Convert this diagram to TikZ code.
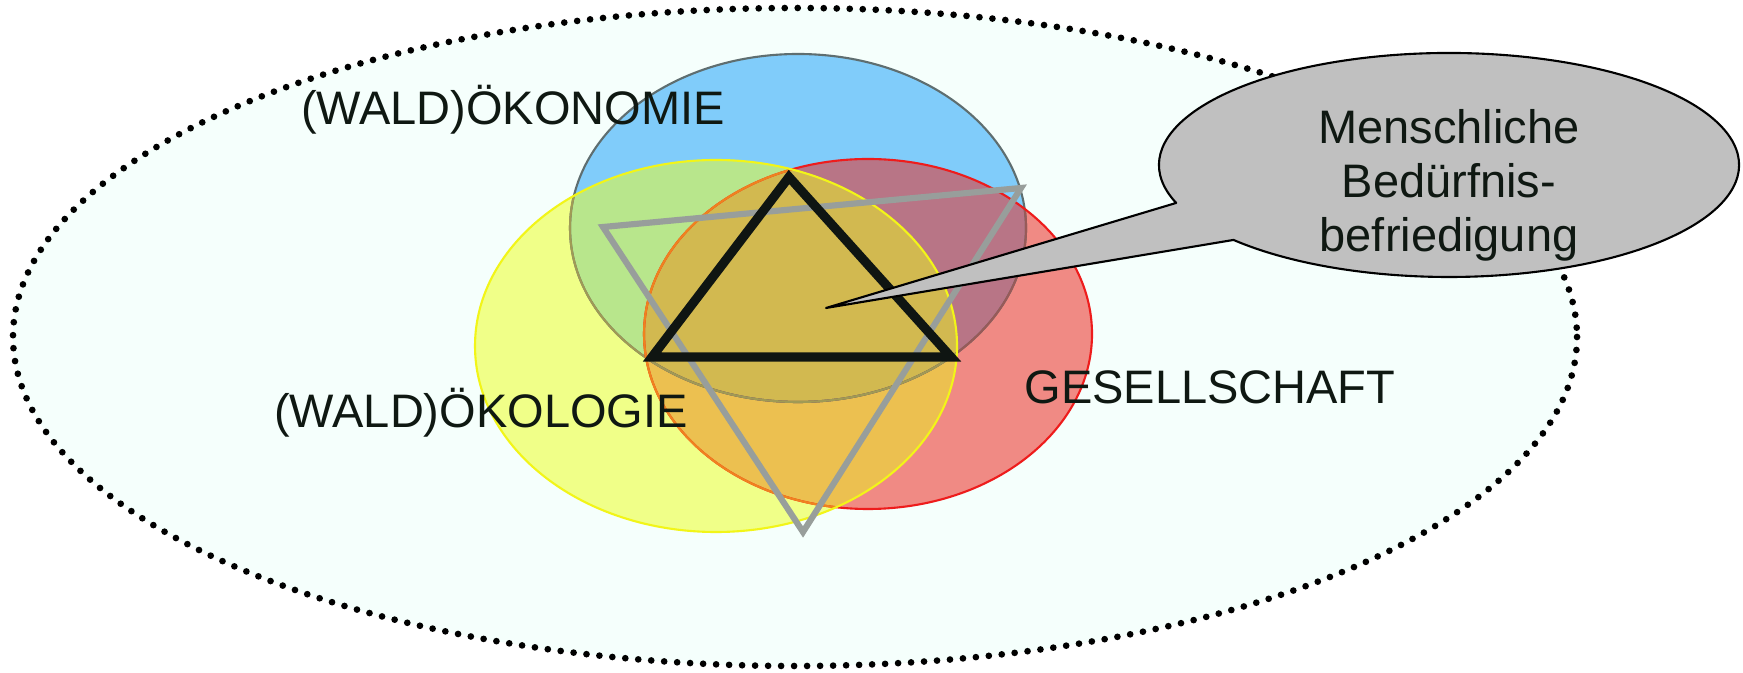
\documentclass[tikz,border=0pt]{standalone}
\usepackage{fontspec}
\setmainfont{Liberation Sans}
\definecolor{bgmint}{HTML}{F5FFFC}
\definecolor{cBlue}{HTML}{80CCFA}
\definecolor{cYel}{HTML}{F0FF88}
\definecolor{cRed}{HTML}{F08A84}
\definecolor{cGreen}{HTML}{B8E68C}
\definecolor{cPurple}{HTML}{B87586}
\definecolor{cOrange}{HTML}{ECC050}
\definecolor{cGold}{HTML}{D2B950}
\definecolor{lBlue}{HTML}{5E6E70}
\definecolor{lBlueR}{HTML}{985A58}
\definecolor{lBlueY}{HTML}{A09A55}
\definecolor{lRed}{HTML}{EE1C1C}
\definecolor{lRedY}{HTML}{F0821E}
\definecolor{lYel}{HTML}{F2F518}
\definecolor{triGray}{HTML}{989E9B}
\definecolor{triBlack}{HTML}{0F1512}
\definecolor{txt}{HTML}{0F1812}
\definecolor{bubGray}{HTML}{C0C0C0}
\begin{document}
\begin{tikzpicture}[x=0.1mm,y=-0.1mm,
  blueE/.style={insert path={(798,228) ellipse [x radius=228, y radius=174]}},
  yelE/.style={insert path={(716,346) ellipse [x radius=241, y radius=186]}},
  redE/.style={insert path={(868,334) ellipse [x radius=224, y radius=175]}},
  ring/.style={line width=0.6pt},
  outerline/.style={draw=black, line width=1.9pt, line cap=round, dash pattern=on 0pt off 3.7pt},
  blacktri/.style={draw=triBlack, line width=2.6pt, line join=miter},
  graytri/.style={draw=triGray, line width=1.75pt, line join=miter},
  bubble/.style={fill=bubGray, draw=black, line width=0.6pt, line join=round},
  lbl/.style={font=\fontsize{13.37}{15.4}\selectfont, text=txt, inner sep=0pt}]
\useasboundingbox (0,0) rectangle (1743,673);
\fill[white] (0,0) rectangle (1743,673);
% outer dotted ellipse
\coordinate (Oc) at (795,337);
\path[fill=bgmint, outerline] (Oc) ellipse [x radius=782, y radius=329];
% base fills
\fill[cBlue, blueE];
\fill[cYel, yelE];
\fill[cRed, redE];
% overlaps
\begin{scope}
  \clip[blueE];
  \fill[cGreen, yelE];
  \fill[cPurple, redE];
\end{scope}
\begin{scope}
  \clip[yelE];
  \fill[cOrange, redE];
  \clip[redE];
  \fill[cGold, blueE];
\end{scope}
% outlines
\draw[ring, lBlue, blueE];
\begin{scope}
  \clip[redE];
  \draw[ring, lBlueR, blueE];
\end{scope}
\begin{scope}
  \clip[yelE];
  \draw[ring, lBlueY, blueE];
\end{scope}
\draw[ring, lRed, redE];
\begin{scope}
  \clip[yelE];
  \draw[ring, lRedY, redE];
\end{scope}
\draw[ring, lYel, yelE];
% labels
\node[lbl, anchor=base] (oek) at (513,125) {(WALD)ÖKONOMIE};
\node[lbl, anchor=base] (eco) at (481,428) {(WALD)ÖKOLOGIE};
\node[lbl, anchor=base] (ges) at (1210,404) {GESELLSCHAFT};
% triangles
\coordinate (gA) at (603,227);
\coordinate (gB) at (1021,188);
\coordinate (gC) at (803,532);
\draw[graytri] (gA) -- (gB) -- (gC) -- cycle;
\coordinate (bA) at (789,177);
\coordinate (bB) at (652,357);
\coordinate (bC) at (951,357);
\draw[blacktri] (bA) -- (bB) -- (bC) -- cycle;
% speech bubble
\coordinate (bc) at (1449,165);
\coordinate (tip) at (826,308);
\draw[bubble] (bc) ++(160.2:290 and 112) arc[start angle=160.2, end angle=498, x radius=290, y radius=112] -- (tip) -- cycle;
\node[lbl, align=center] (mb) at (1449,185) {Menschliche\\Bedürfnis-\\befriedigung};
\end{tikzpicture}
\end{document}
